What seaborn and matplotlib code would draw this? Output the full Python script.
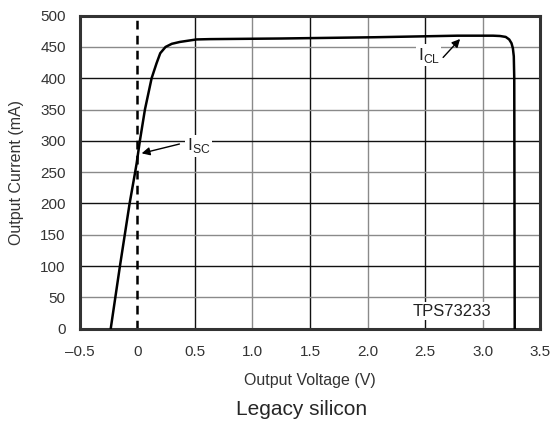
import matplotlib
matplotlib.use("Agg")
import matplotlib.pyplot as plt
import seaborn as sns
import pandas as pd

# curve
voltage = [-0.23, -0.15, -0.066, -0.018, -0.005, 0.023, 0.067, 0.125, 0.168, 0.2,
           0.246, 0.3, 0.37, 0.515, 0.63, 1.25, 2.06, 2.78, 3.09, 3.15, 3.2, 3.23,
           3.25, 3.262, 3.27, 3.274, 3.276, 3.278]
current = [0, 100, 200, 250, 264, 300, 350, 400, 424, 440,
           450, 455, 458, 462, 462.5, 463.5, 465.5, 468, 468, 467.5, 466, 462,
           456, 448, 435, 400, 200, 0]

x_ticks = [-0.5, 0, 0.5, 1.0, 1.5, 2.0, 2.5, 3.0, 3.5]
x_labels = ["\u20130.5", "0", "0.5", "1.0", "1.5", "2.0", "2.5", "3.0", "3.5"]
y_ticks = [0, 50, 100, 150, 200, 250, 300, 350, 400, 450, 500]

df = pd.DataFrame({"V": voltage, "I": current})

sns.set_style("white")
plt.rcParams["font.family"] = ["Liberation Sans", "DejaVu Sans"]
plt.rcParams["mathtext.fontset"] = "custom"
plt.rcParams["mathtext.rm"] = "Liberation Sans"

fig = plt.figure(figsize=(5.53, 4.23), dpi=100)
ax = fig.add_axes([0.144, 0.223, 0.833, 0.740])

# alternating black / grey grid like the original
for i, xv in enumerate(x_ticks[2:-1]):
    ax.axvline(xv, color="#111111" if i % 2 == 0 else "#8a8a8a", lw=1.0, zorder=1)
for i, yv in enumerate(y_ticks[1:-1]):
    ax.axhline(yv, color="#8a8a8a" if i % 2 == 0 else "#111111", lw=1.0, zorder=1)

ax.axvline(0, color="black", lw=1.8, ls=(0, (3.5, 2.5)), zorder=2)

sns.lineplot(data=df, x="V", y="I", sort=False, color="black", lw=1.8, ax=ax, zorder=3)

ax.set_xlim(-0.5, 3.5)
ax.set_ylim(0, 500)
ax.set_xticks(x_ticks)
ax.set_xticklabels(x_labels)
ax.set_yticks(y_ticks)
ax.tick_params(length=0, labelsize=11, colors="#333333")
ax.tick_params(axis="x", pad=12)
ax.tick_params(axis="y", pad=10)
ax.set_xlabel("Output Voltage (V)", fontsize=11.5, labelpad=10, color="#333333")
ax.set_ylabel("Output Current (mA)", fontsize=11.5, labelpad=12, color="#333333")
for s in ax.spines.values():
    s.set_linewidth(2.2)
    s.set_color("#333333")

bbox = dict(boxstyle="square,pad=0.1", fc="white", ec="none")
arrow = dict(arrowstyle="-|>", color="black", lw=1.0, mutation_scale=12)
ax.annotate("", xy=(2.82, 466), xytext=(2.64, 430), arrowprops=arrow, zorder=5)
ax.text(2.53, 437, "I$_{\\rm CL}$", ha="center", va="center", fontsize=12.5, color="#222222", bbox=bbox, zorder=4)
ax.annotate("", xy=(0.015, 279), xytext=(0.39, 296), arrowprops=arrow, zorder=5)
ax.text(0.53, 292, "I$_{\\rm SC}$", ha="center", va="center", fontsize=12.5, color="#222222", bbox=bbox, zorder=4)
ax.text(2.73, 28, "TPS73233", ha="center", va="center", fontsize=12, color="#222222", bbox=bbox, zorder=4)

fig.text(0.546, 0.033, "Legacy silicon", ha="center", va="center", fontsize=15)

fig.savefig("out.png", dpi=100)
